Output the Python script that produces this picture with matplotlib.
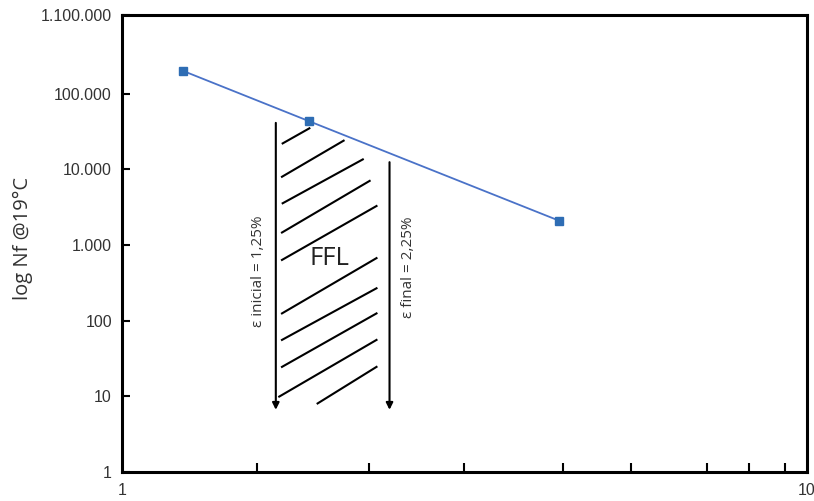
import matplotlib
matplotlib.use("Agg")
import matplotlib.pyplot as plt
from matplotlib.ticker import FixedLocator, NullFormatter, FixedFormatter

# Data
strain = [1.23, 1.875, 4.35]
cycles = [200000, 43600, 2100]

y_ticks = [1, 10, 100, 1000, 10000, 100000, 1100000]
y_labels = ["1", "10", "100", "1.000", "10.000", "100.000", "1.100.000"]
x_ticks = [1, 10]
x_labels = ["1", "10"]
x_minor = [1.574, 2.296, 3.162, 4.406, 5.546, 7.145, 8.241, 9.290]

ylabel = "log Nf @19°C"
txt_ffl = "FFL"
txt_ini = "ε inicial = 1,25%"
txt_fin = "ε final = 2,25%"

# hatch lines in axes fraction: (x0, x1, y0, y1)
hatch_x0 = [0.235, 0.234, 0.235, 0.234, 0.234, 0.234, 0.234, 0.234, 0.230, 0.286]
hatch_x1 = [0.274, 0.324, 0.352, 0.362, 0.372, 0.372, 0.372, 0.372, 0.372, 0.372]
hatch_y0 = [0.719, 0.646, 0.588, 0.524, 0.464, 0.347, 0.289, 0.230, 0.165, 0.150]
hatch_y1 = [0.752, 0.725, 0.684, 0.637, 0.582, 0.468, 0.402, 0.347, 0.289, 0.230]

fig = plt.figure(figsize=(8.14, 5.01), dpi=100)
ax = fig.add_axes([0.1495, 0.0579, 0.8415, 0.9122])

ax.plot(strain, cycles, color="#4A72C8", lw=1.3, marker="s", markersize=6,
        markerfacecolor="#2E6DB4", markeredgecolor="#2E6DB4", zorder=3)

ax.set_xscale("log")
ax.set_yscale("log")
ax.set_xlim(1, 10)
ax.set_ylim(1, 1100000)

ax.xaxis.set_major_locator(FixedLocator(x_ticks))
ax.xaxis.set_major_formatter(FixedFormatter(x_labels))
ax.xaxis.set_minor_locator(FixedLocator(x_minor))
ax.xaxis.set_minor_formatter(NullFormatter())
ax.yaxis.set_major_locator(FixedLocator(y_ticks))
ax.yaxis.set_major_formatter(FixedFormatter(y_labels))
ax.yaxis.set_minor_locator(FixedLocator([]))

tick_font = "Liberation Sans"
ax.tick_params(axis="both", which="both", direction="in", width=1.5,
               labelsize=11.5, colors="black", labelcolor="#333333")
ax.tick_params(axis="y", which="major", length=6, pad=7)
ax.tick_params(axis="x", which="major", length=0, pad=8)
ax.tick_params(axis="x", which="minor", length=6.5)
for lab in ax.get_xticklabels() + ax.get_yticklabels():
    lab.set_fontfamily(tick_font)

for s in ax.spines.values():
    s.set_linewidth(2.2)
    s.set_color("black")

ax.set_ylabel(ylabel, fontsize=14.5, family="Open Sans", color="#333333")
ax.yaxis.set_label_coords(-0.129, 0.51)

# Annotations
tr = ax.transAxes
for x0, x1, y0, y1 in zip(hatch_x0, hatch_x1, hatch_y0, hatch_y1):
    ax.plot([x0, x1], [y0, y1], transform=tr, color="black", lw=1.5, zorder=2)

ax.annotate("", xy=(0.225, 0.130), xytext=(0.225, 0.770), xycoords=tr, textcoords=tr,
            arrowprops=dict(arrowstyle="-|>", color="black", lw=1.5, mutation_scale=10))
ax.annotate("", xy=(0.391, 0.130), xytext=(0.391, 0.684), xycoords=tr, textcoords=tr,
            arrowprops=dict(arrowstyle="-|>", color="black", lw=1.5, mutation_scale=10))

ax.text(0.304, 0.468, txt_ffl, transform=tr, fontsize=18.5, family="Open Sans",
        color="#222222", ha="center", va="center")
ax.text(0.200, 0.440, txt_ini, transform=tr, fontsize=11, family="Open Sans",
        color="#333333", ha="center", va="center", rotation=90)
ax.text(0.418, 0.4475, txt_fin, transform=tr, fontsize=11, family="Open Sans",
        color="#333333", ha="center", va="center", rotation=90)

fig.savefig("out.png", dpi=100)
